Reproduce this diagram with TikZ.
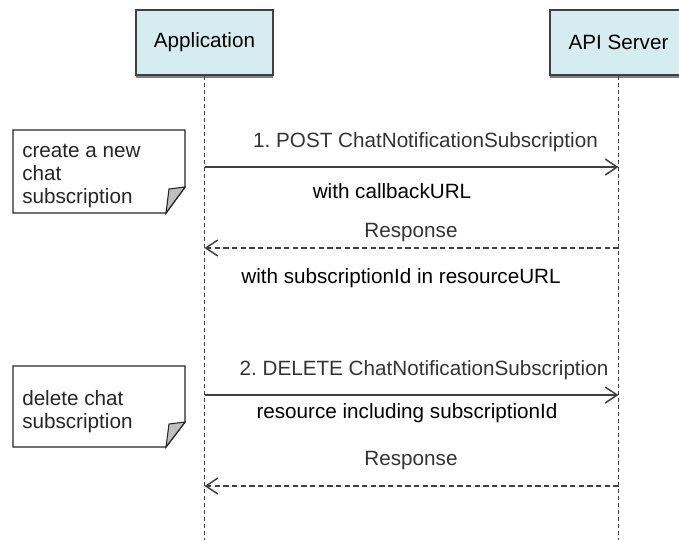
\documentclass[tikz,border=0pt]{standalone}
\usepackage{fontspec}
\setmainfont{Liberation Sans}
\usetikzlibrary{arrows.meta}
\frenchspacing

\definecolor{boxfill}{RGB}{213,236,240}
\definecolor{linegray}{RGB}{64,64,64}

\tikzset{
  actor/.style={draw=linegray, fill=boxfill, line width=1.2pt, minimum width=102.75pt, minimum height=48.75pt, inner sep=0pt},
  lifeline/.style={draw=black!75, line width=1.1pt, dash pattern=on 3pt off 2.25pt},
  msg/.style={draw=linegray, line width=1.1pt, -{Straight Barb[length=9pt,width=12pt]}},
  reply/.style={msg, dash pattern=on 4pt off 2.5pt},
  lbl/.style={anchor=base, inner sep=0pt, text=black!80},
  notebox/.style={draw=black!85, fill=white, line width=1.1pt},
  notetext/.style={anchor=north west, inner sep=0pt, align=left, text=black!85},
}

\begin{document}
\begin{tikzpicture}[x=0.75pt,y=0.75pt,yscale=-1,xscale=1, every node/.style={font=\fontsize{15.5}{17.25}\selectfont}]
\useasboundingbox (0,0) rectangle (679,540);

% Shadows under the boxes
\fill[black!50] (136,75) rectangle (273,77.5);
\fill[black!50] (550,75) rectangle (687,77.5);
% Actor boxes
\node[actor] (app) at (204.5,42.5) {Application};
\node[actor] (srv) at (618.5,42.5) {API Server};

% Lifelines
\coordinate (append) at (204.5,540);
\coordinate (srvend) at (618.5,540);
\draw[lifeline] (app.south) -- (append);
\draw[lifeline] (srv.south) -- (srvend);

% Message points
\coordinate (a1) at (204.5,167);
\coordinate (s1) at (618.5,167);
\coordinate (a2) at (204.5,248);
\coordinate (s2) at (618.5,248);
\coordinate (a3) at (204.5,395);
\coordinate (s3) at (618.5,395);
\coordinate (a4) at (204.5,486);
\coordinate (s4) at (618.5,486);

% Messages
\draw[msg] (a1) -- (s1);
\draw[reply] (s2) -- (a2);
\draw[msg] (a3) -- (s3);
\draw[reply] (s4) -- (a4);

% Text Node
\node[lbl] (post) at (425.5,147) {1. POST ChatNotificationSubscription};
\node[lbl, text=black] (cburl) at (392,198) {with callbackURL};
\node[lbl] (resp1) at (411,237) {Response};
\node[lbl, text=black] (subid) at (401,283) {with subscriptionId in resourceURL};
\node[lbl] (del) at (424,375) {2. DELETE ChatNotificationSubscription};
\node[lbl, text=black] (resid) at (407,418) {resource including subscriptionId};
\node[lbl] (resp2) at (411,465) {Response};

% Notes
\draw[notebox] (13,130) -- (185,130) -- (185,187) -- (166,213) -- (13,213) -- cycle;
\draw[notebox, fill=black!25, line width=0.8pt] (185,187) -- (169,189) -- (166,213) -- cycle;
\node[notetext] (note1) at (22,144) {create a new\\chat\\subscription};

\draw[notebox] (13,366) -- (185,366) -- (185,422) -- (166,447) -- (13,447) -- cycle;
\draw[notebox, fill=black!25, line width=0.8pt] (185,422) -- (169,424) -- (166,447) -- cycle;
\node[notetext] (note2) at (22,390) {delete chat\\subscription};

\end{tikzpicture}
\end{document}
